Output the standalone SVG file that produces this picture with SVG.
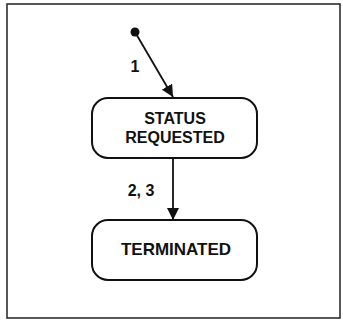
<svg xmlns="http://www.w3.org/2000/svg" width="343" height="324" viewBox="0 0 343 324">
  <style>
    .state { fill: #fff; stroke: #111; stroke-width: 2; }
    .lbl { font-family: "Liberation Sans", Arial, sans-serif; font-weight: bold; fill: #111; }
    .edge { stroke: #111; stroke-width: 1.8; fill: none; }
  </style>
  <defs>
    <marker id="arrow" viewBox="0 0 12 12" refX="12" refY="6" markerWidth="12" markerHeight="12" markerUnits="userSpaceOnUse" orient="auto">
      <path d="M0,0 L12,6 L0,12 Z" fill="#111"/>
    </marker>
  </defs>
  <rect width="343" height="324" fill="#fff"/>
  <!-- outer frame -->
  <rect x="7" y="4" width="333" height="314" fill="none" stroke="#222" stroke-width="1.5"/>

  <g id="initial">
    <circle cx="135" cy="32" r="4.5" fill="#111"/>
  </g>

  <g id="connectors">
    <line class="edge" x1="135" y1="32" x2="173" y2="97" marker-end="url(#arrow)"/>
    <text class="lbl" x="135" y="72" font-size="16" text-anchor="middle">1</text>
    <line class="edge" x1="173" y1="158" x2="173" y2="220" marker-end="url(#arrow)"/>
    <text class="lbl" x="141" y="196" font-size="16" text-anchor="middle">2, 3</text>
  </g>

  <g id="status-requested">
    <rect class="state" x="92" y="98" width="165" height="60" rx="16"/>
    <text class="lbl" x="175" y="124" font-size="16" text-anchor="middle">STATUS</text>
    <text class="lbl" x="175" y="143" font-size="16" text-anchor="middle">REQUESTED</text>
  </g>

  <g id="terminated">
    <rect class="state" x="92" y="220" width="165" height="60" rx="16"/>
    <text class="lbl" x="176" y="255" font-size="17" text-anchor="middle">TERMINATED</text>
  </g>
</svg>
